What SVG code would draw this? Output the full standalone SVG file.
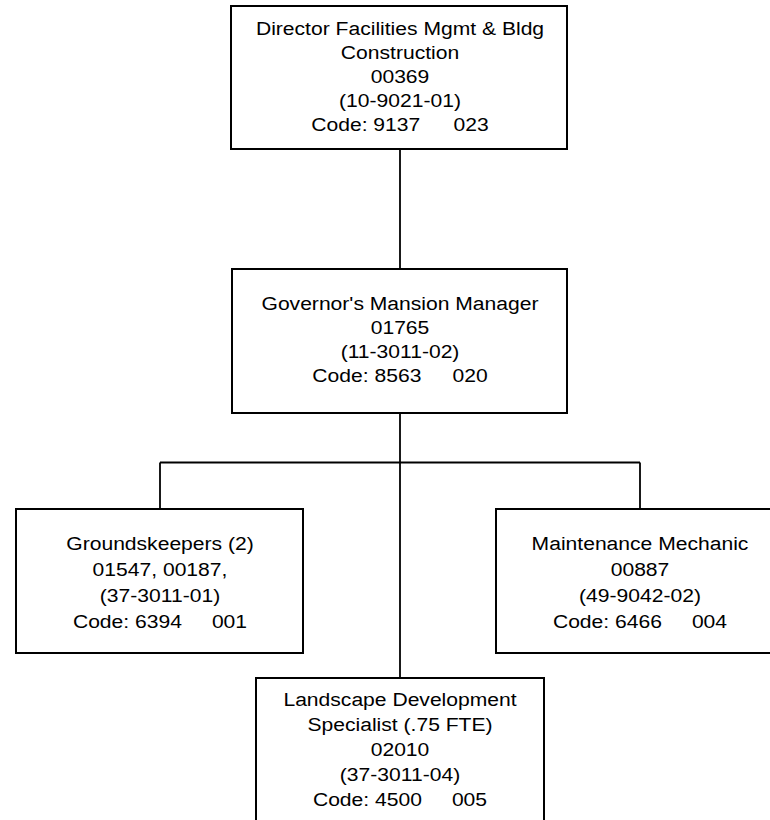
<svg xmlns="http://www.w3.org/2000/svg" width="770" height="820" viewBox="0 0 770 820">
  <style>
    .box { fill: #ffffff; stroke: #000000; stroke-width: 2; }
    .wire { fill: none; stroke: #000000; stroke-width: 1.8; }
    .label { font-family: "Liberation Sans", Arial, sans-serif; font-size: 19px; fill: #000000; text-anchor: middle; }
  </style>
  <rect x="0" y="0" width="770" height="820" fill="#ffffff"/>

  <!-- reporting lines -->
  <g id="connectors">
    <line class="wire" x1="400" y1="149" x2="400" y2="269"/>
    <line class="wire" x1="400" y1="413" x2="400" y2="678"/>
    <line class="wire" x1="160" y1="462.5" x2="640" y2="462.5"/>
    <line class="wire" x1="160" y1="462.5" x2="160" y2="509"/>
    <line class="wire" x1="640" y1="462.5" x2="640" y2="509"/>
  </g>

  <g id="director">
    <rect class="box" x="231" y="6" width="336" height="143"/>
    <g class="label" transform="translate(400 0) scale(1.11 1)">
      <text x="0" y="35">Director Facilities Mgmt &amp; Bldg</text>
      <text x="0" y="59">Construction</text>
      <text x="0" y="83">00369</text>
      <text x="0" y="107">(10-9021-01)</text>
      <text x="0" y="131">Code: 9137<tspan dx="30">023</tspan></text>
    </g>
  </g>

  <g id="mansion-manager">
    <rect class="box" x="232" y="269" width="335" height="144"/>
    <g class="label" transform="translate(400 0) scale(1.11 1)">
      <text x="0" y="310">Governor's Mansion Manager</text>
      <text x="0" y="334">01765</text>
      <text x="0" y="358">(11-3011-02)</text>
      <text x="0" y="382">Code: 8563<tspan dx="28">020</tspan></text>
    </g>
  </g>

  <g id="groundskeepers">
    <rect class="box" x="16" y="509" width="287" height="144"/>
    <g class="label" transform="translate(160 0) scale(1.11 1)">
      <text x="0" y="550">Groundskeepers (2)</text>
      <text x="0" y="576">01547, 00187,</text>
      <text x="0" y="602">(37-3011-01)</text>
      <text x="0" y="628">Code: 6394<tspan dx="27">001</tspan></text>
    </g>
  </g>

  <g id="maintenance-mechanic">
    <rect class="box" x="496" y="509" width="288" height="144"/>
    <g class="label" transform="translate(640 0) scale(1.11 1)">
      <text x="0" y="550">Maintenance Mechanic</text>
      <text x="0" y="576">00887</text>
      <text x="0" y="602">(49-9042-02)</text>
      <text x="0" y="628">Code: 6466<tspan dx="27">004</tspan></text>
    </g>
  </g>

  <g id="landscape-specialist">
    <rect class="box" x="256" y="678" width="288" height="160"/>
    <g class="label" transform="translate(400 0) scale(1.11 1)">
      <text x="0" y="706">Landscape Development</text>
      <text x="0" y="731">Specialist (.75 FTE)</text>
      <text x="0" y="756">02010</text>
      <text x="0" y="781">(37-3011-04)</text>
      <text x="0" y="806">Code: 4500<tspan dx="27">005</tspan></text>
    </g>
  </g>
</svg>
